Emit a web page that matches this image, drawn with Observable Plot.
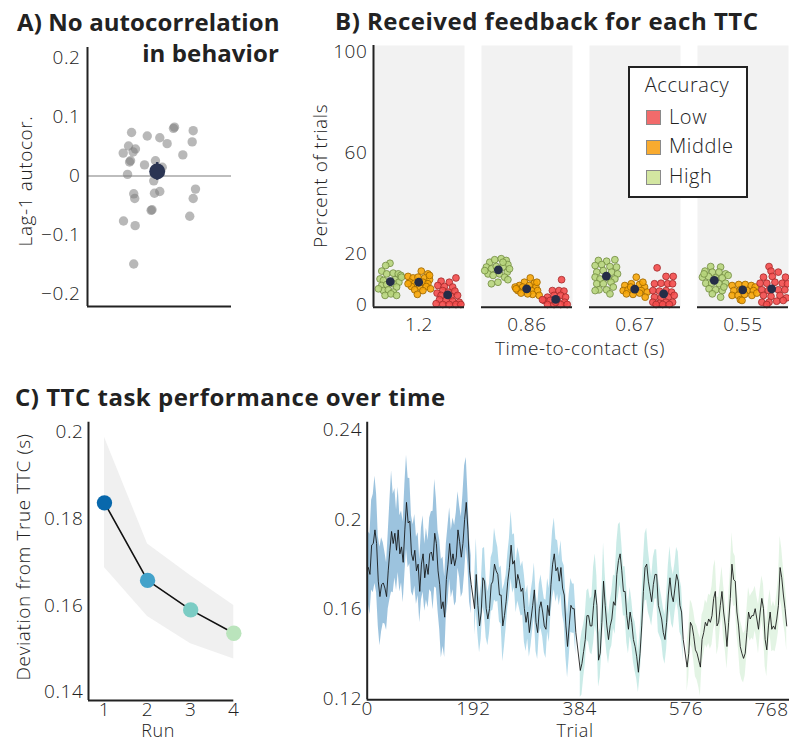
<!DOCTYPE html>
<html><head><meta charset="utf-8">
<script src="https://cdn.jsdelivr.net/npm/d3@7"></script>
<script src="https://cdn.jsdelivr.net/npm/@observablehq/plot@0.6"></script>
<style>
body{margin:0;background:#fff;}
#fig{position:relative;width:789px;height:742px;overflow:hidden;font-family:"Open Sans",sans-serif;color:#222;}
.t{position:absolute;white-space:nowrap;line-height:1;}
.title{font-weight:700;font-size:24px;letter-spacing:0.5px;}
.lab{font-size:19px;font-weight:300;letter-spacing:0.6px;}
.c{transform:translate(-50%,-50%);}
.rot{transform:translate(-50%,-50%) rotate(-90deg);}
</style></head><body><div id="fig"></div>
<script>
// ---------- Panel A: lag-1 autocorrelation per subject ----------
const aTicks = [-0.2, -0.1, 0, 0.1, 0.2];
const aAutocor = [0.074,0.068,0.065,0.055,0.083,0.081,0.077,0.058,0.051,0.046,0.039,0.041,0.026,0.024,0.019,0.026,-0.008,0.003,0.036,-0.022,-0.038,-0.068,-0.030,-0.038,-0.029,-0.026,-0.058,-0.057,-0.076,-0.084,-0.149,0.015];
const aJitter  = [0.306,0.415,0.502,0.553,0.604,0.597,0.734,0.727,0.285,0.333,0.248,0.317,0.299,0.292,0.396,0.472,0.460,0.278,0.662,0.750,0.734,0.710,0.321,0.328,0.465,0.502,0.442,0.448,0.250,0.331,0.321,0.519];
const aMeanVal = 0.008, aMeanSe = 0.015, aMeanJit = 0.484;

// ---------- Panel B: feedback percentages ----------
const ttcLabels = ["1.2","0.86","0.67","0.55"];
const accLevels = ["Low","Middle","High"];
const accFill   = ["#f34b4b","#f7a608","#b7d57c"];
const accStroke = ["#a32b2b","#9a6400","#718a40"];
const legendFill = ["#f26b6b","#f9ab2f","#d3e6a1"];
const bTicks = [0, 20, 60, 100];
const highPct = [
 [16.3,15.4,13.2,12.1,12.4,12.1,11.5,10.1,9.5,9.8,8.8,7.5,7.9,8.2,6.9,5.5,5.8,4.9,6.2,3.6,4.2,3.6,10.8],
 [16.7,17.7,18.1,17.4,15.8,14.8,14.1,15.0,14.8,12.8,12.1,11.5,12.1,10.8,9.8,8.2,8.8,13.4,16.7,14.1],
 [17.4,17.1,17.7,15.4,15.8,15.0,14.8,12.8,13.4,12.8,12.1,10.8,10.1,10.5,10.1,8.2,8.2,8.8,5.8,5.8,4.2,5.5,6.9],
 [15.0,14.8,13.2,12.8,12.8,12.1,10.8,11.1,10.5,10.5,11.5,8.4,8.4,8.2,8.4,6.2,5.8,5.5,4.2,2.9,12.1,6.9]];
const highJit = [
 [0.181,0.134,0.091,0.145,0.217,0.272,0.301,0.072,0.109,0.236,0.279,0.091,0.145,0.217,0.254,0.109,0.163,0.217,0.054,0.127,0.192,0.254,0.308],
 [0.091,0.145,0.217,0.272,0.290,0.054,0.109,0.163,0.236,0.283,0.072,0.127,0.199,0.254,0.290,0.109,0.181,0.036,0.236,0.308],
 [0.098,0.188,0.279,0.062,0.134,0.225,0.297,0.080,0.152,0.243,0.308,0.062,0.116,0.207,0.279,0.080,0.152,0.236,0.105,0.188,0.225,0.062,0.261],
 [0.145,0.254,0.083,0.163,0.236,0.308,0.054,0.120,0.199,0.272,0.337,0.091,0.156,0.236,0.308,0.127,0.199,0.272,0.163,0.254,0.072,0.290]];
const middlePct = [
 [13.2,12.1,11.1,10.5,10.8,10.5,9.8,8.8,8.4,8.8,8.2,7.1,6.9,7.1,6.2,5.8,5.5,4.0,8.2,11.5],
 [10.5,8.8,7.5,6.9,8.4,6.9,7.5,6.9,5.5,5.5,5.5,5.5,3.6,4.0,4.5,4.2,6.2,8.8],
 [10.8,7.5,8.2,7.9,6.9,5.5,5.8,5.5,5.5,4.9,4.2,4.0,4.5,2.9,6.9,8.8],
 [7.5,7.9,7.9,7.5,6.9,5.5,5.8,5.5,5.5,3.6,3.6,4.0,3.6,4.5,1.9,1.6]];
const middleJit = [
 [0.525,0.598,0.380,0.435,0.489,0.562,0.616,0.399,0.453,0.543,0.598,0.417,0.507,0.580,0.627,0.453,0.543,0.482,0.380,0.616],
 [0.536,0.471,0.417,0.370,0.580,0.598,0.525,0.453,0.399,0.478,0.551,0.616,0.634,0.562,0.435,0.507,0.380,0.609],
 [0.514,0.388,0.460,0.551,0.605,0.370,0.424,0.496,0.569,0.634,0.406,0.478,0.551,0.612,0.453,0.587],
 [0.380,0.453,0.525,0.591,0.634,0.399,0.471,0.543,0.616,0.380,0.446,0.518,0.598,0.652,0.471,0.489]];
const lowPct = [
 [10.5,9.2,8.8,7.5,7.1,6.9,5.5,4.9,5.3,4.5,3.6,3.2,3.6,1.9,1.6,1.3,0.9,0.0,0.0,0.0,0.0,0.3],
 [9.8,5.5,5.5,5.3,2.9,3.6,3.6,2.9,1.6,1.6,1.9,0.9,0.0,0.0,0.0,0.0,1.9,0.9],
 [14.5,11.1,11.1,8.2,8.4,8.2,8.2,5.5,5.3,5.5,4.9,2.9,2.6,2.9,3.6,0.9,0.5,0.9,0.9,0.0,0.0,0.0],
 [15.0,13.2,12.8,10.8,11.1,10.8,8.4,8.4,8.8,8.4,8.2,5.8,5.5,5.8,5.8,3.6,3.2,3.6,2.6,0.9,0.9,1.3,1.6,0.0]];
const lowJit = [
 [0.906,0.743,0.833,0.707,0.779,0.870,0.761,0.822,0.895,0.699,0.743,0.851,0.924,0.725,0.797,0.870,0.942,0.761,0.833,0.906,0.960,0.688],
 [0.880,0.779,0.851,0.906,0.725,0.797,0.870,0.924,0.688,0.754,0.833,0.913,0.725,0.797,0.870,0.942,0.670,0.815],
 [0.743,0.841,0.920,0.714,0.786,0.859,0.913,0.696,0.768,0.841,0.902,0.714,0.786,0.866,0.931,0.696,0.768,0.841,0.913,0.732,0.804,0.877],
 [0.786,0.808,0.888,0.725,0.822,0.967,0.688,0.761,0.851,0.931,0.989,0.707,0.779,0.888,0.960,0.725,0.808,0.906,0.978,0.707,0.786,0.870,0.942,0.761]];
const meanLow = [3.8, 2.0, 4.2, 6.2];
const meanMiddle = [8.8, 6.2, 6.1, 5.8];
const meanHigh = [9.0, 13.7, 11.2, 9.5];
const meanJit = [0.815, 0.497, 0.185]; // Low, Middle, High

// ---------- Panel C left: per-run deviation ----------
const runs = [1, 2, 3, 4];
const runColors = ["#0868ac","#43a2ca","#7bccc4","#bae4bc"];
const runMean  = [0.1837, 0.1658, 0.1590, 0.1536];
const runLower = [0.1688, 0.1575, 0.1512, 0.1477];
const runUpper = [0.1988, 0.1742, 0.1669, 0.1600];
const cLeftTicks = [0.14, 0.16, 0.18, 0.2];

// ---------- Panel C right: trial-wise deviation (every 3rd trial) ----------
const trialTicks = [0, 192, 384, 576];
const lastTrialTick = 768;
const cRightTicks = [0.12, 0.16, 0.2, 0.24];
const runFirstTrial = [2, 194, 385, 578];
const trialStep = 3;
const dev1 = [0.1787,0.1756,0.1887,0.1894,0.1955,0.1894,0.1726,0.1657,0.1710,0.1718,0.1695,0.1657,0.1772,0.1864,0.1948,0.1894,0.1940,0.1864,0.1955,0.1848,0.1879,0.1810,0.1955,0.2078,0.1986,0.1994,0.1848,0.1818,0.1864,0.1772,0.1802,0.1680,0.1802,0.1848,0.1741,0.1802,0.1756,0.1848,0.1856,0.1818,0.1940,0.1894,0.1772,0.1710,0.1603,0.1634,0.1565,0.1733,0.1802,0.1894,0.1802,0.1848,0.1795,0.1833,0.1955,0.1902,0.1833,0.1894,0.2001,0.2078,0.1955,0.1772,0.1710];
const se1 = [0.016,0.018,0.020,0.022,0.024,0.022,0.020,0.022,0.021,0.018,0.016,0.015,0.017,0.022,0.027,0.022,0.020,0.018,0.019,0.017,0.016,0.018,0.020,0.021,0.020,0.019,0.017,0.016,0.016,0.015,0.014,0.014,0.016,0.017,0.015,0.016,0.015,0.016,0.018,0.022,0.024,0.020,0.018,0.020,0.022,0.020,0.018,0.016,0.017,0.016,0.015,0.016,0.018,0.020,0.017,0.016,0.018,0.022,0.024,0.020,0.016,0.014,0.013];
const dev2 = [0.1603,0.1756,0.1618,0.1526,0.1588,0.1741,0.1726,0.1603,0.1557,0.1603,0.1710,0.1726,0.1802,0.1772,0.1756,0.1664,0.1664,0.1526,0.1572,0.1634,0.1726,0.1787,0.1887,0.1802,0.1818,0.1695,0.1756,0.1726,0.1680,0.1695,0.1603,0.1542,0.1588,0.1496,0.1557,0.1618,0.1687,0.1542,0.1496,0.1603,0.1634,0.1588,0.1526,0.1511,0.1618,0.1572,0.1710,0.1802,0.1848,0.1772,0.1787,0.1726,0.1787,0.1695,0.1664,0.1526,0.1434,0.1526,0.1618,0.1603,0.1603,0.1496];
const se2 = [0.012,0.016,0.013,0.012,0.012,0.013,0.015,0.013,0.012,0.011,0.012,0.013,0.016,0.014,0.012,0.012,0.013,0.016,0.014,0.012,0.012,0.013,0.015,0.013,0.012,0.011,0.012,0.012,0.011,0.012,0.015,0.013,0.012,0.011,0.012,0.011,0.012,0.013,0.012,0.011,0.012,0.011,0.012,0.013,0.012,0.012,0.013,0.015,0.016,0.014,0.012,0.011,0.012,0.012,0.013,0.014,0.014,0.014,0.012,0.011,0.011,0.010];
const dev3 = [0.1327,0.1358,0.1411,0.1465,0.1572,0.1572,0.1526,0.1526,0.1618,0.1687,0.1618,0.1373,0.1404,0.1542,0.1726,0.1618,0.1526,0.1465,0.1526,0.1557,0.1634,0.1618,0.1756,0.1818,0.1848,0.1772,0.1680,0.1680,0.1572,0.1511,0.1588,0.1542,0.1465,0.1434,0.1388,0.1319,0.1404,0.1526,0.1680,0.1787,0.1802,0.1726,0.1680,0.1634,0.1710,0.1756,0.1756,0.1618,0.1588,0.1557,0.1496,0.1465,0.1542,0.1664,0.1741,0.1664,0.1634,0.1695,0.1756,0.1726,0.1618,0.1588,0.1465];
const se3 = [0.012,0.014,0.012,0.011,0.011,0.012,0.012,0.013,0.017,0.016,0.013,0.012,0.011,0.013,0.017,0.014,0.012,0.011,0.011,0.012,0.012,0.013,0.014,0.016,0.014,0.012,0.011,0.011,0.012,0.011,0.011,0.010,0.010,0.011,0.010,0.009,0.010,0.011,0.013,0.015,0.016,0.014,0.012,0.011,0.012,0.011,0.011,0.012,0.011,0.010,0.011,0.011,0.012,0.013,0.014,0.013,0.012,0.011,0.012,0.013,0.012,0.011,0.010];
const dev4 = [0.1342,0.1404,0.1542,0.1526,0.1480,0.1419,0.1404,0.1373,0.1342,0.1465,0.1496,0.1542,0.1526,0.1557,0.1542,0.1572,0.1649,0.1680,0.1526,0.1542,0.1618,0.1680,0.1588,0.1526,0.1434,0.1542,0.1649,0.1802,0.1733,0.1726,0.1588,0.1526,0.1434,0.1404,0.1381,0.1404,0.1496,0.1588,0.1557,0.1572,0.1572,0.1603,0.1557,0.1511,0.1588,0.1649,0.1603,0.1465,0.1419,0.1526,0.1588,0.1511,0.1526,0.1511,0.1557,0.1618,0.1787,0.1741,0.1664,0.1603,0.1526];
const se4 = [0.011,0.011,0.010,0.010,0.011,0.012,0.012,0.012,0.013,0.011,0.010,0.010,0.010,0.011,0.012,0.013,0.014,0.014,0.013,0.011,0.010,0.011,0.012,0.011,0.010,0.011,0.012,0.014,0.012,0.011,0.010,0.011,0.012,0.012,0.011,0.010,0.010,0.011,0.010,0.010,0.011,0.010,0.010,0.011,0.010,0.010,0.011,0.012,0.012,0.011,0.010,0.010,0.011,0.010,0.011,0.012,0.014,0.013,0.012,0.011,0.011];

// ================= build =================
const fig = document.getElementById("fig");
const fmt = d3.format("~g");
const baseStyle = {fontFamily:'"Open Sans", sans-serif', fontSize:"19px", fontWeight:"300", letterSpacing:"0.6px", color:"#222", background:"transparent", overflow:"visible"};
const ink = "#222";
function place(node, left, top){ node.style.position="absolute"; node.style.left=left+"px"; node.style.top=top+"px"; fig.appendChild(node); }
function text(str, cls, css){ const d=document.createElement("div"); d.className="t "+cls; d.textContent=str; Object.assign(d.style, css); fig.appendChild(d); return d; }

// Panel A
const aData = aAutocor.map((r,i)=>({r, jit:aJitter[i]}));
const aMean = [{r:aMeanVal, jit:aMeanJit}];
const aYmin = -0.221;
place(Plot.plot({
  width:240, height:320, marginLeft:87, marginRight:9, marginTop:47, marginBottom:14,
  style: baseStyle,
  x:{domain:[0,1], axis:null},
  y:{domain:[aYmin,0.218], ticks:aTicks, tickFormat:fmt, tickSize:0, tickPadding:7, label:null},
  marks:[
    Plot.ruleY([0], {stroke:"#bdbdbd", strokeWidth:2}),
    Plot.dot(aData, {x:"jit", y:"r", r:4.7, fill:"#7d7d7d", fillOpacity:0.55}),
    Plot.ruleX(aMean, {x:"jit", y1:d=>d.r-aMeanSe, y2:d=>d.r+aMeanSe, stroke:"#2b3553", strokeWidth:2.5}),
    Plot.dot(aMean, {x:"jit", y:"r", r:8, fill:"#2b3553"}),
    Plot.ruleX([0], {stroke:ink, strokeWidth:2}),
    Plot.ruleY([aYmin], {stroke:ink, strokeWidth:2})
  ]
}), 0, 0);

// Panel B
const pctByAcc = [lowPct, middlePct, highPct];
const jitByAcc = [lowJit, middleJit, highJit];
const meanByAcc = [meanLow, meanMiddle, meanHigh];
const bDots = [], bMeans = [];
ttcLabels.forEach((ttc, ti) => {
  [2,1,0].forEach(ai => {
    pctByAcc[ai][ti].forEach((p, k) => bDots.push({ttc, pct:p, jit:jitByAcc[ai][ti][k], fill:accFill[ai], stroke:accStroke[ai]}));
    bMeans.push({ttc, pct:meanByAcc[ai][ti], jit:meanJit[ai]});
  });
});
const bYmin = -1.07;
place(Plot.plot({
  width:489, height:360, marginLeft:71.7, marginRight:0, marginTop:45, marginBottom:53.3,
  style: baseStyle,
  fx:{domain:ttcLabels, paddingInner:0.154, paddingOuter:0, label:null, tickSize:0, tickPadding:10, axis:"bottom"},
  x:{domain:[0,1], axis:null},
  y:{domain:[bYmin,102.4], ticks:bTicks, tickSize:0, tickPadding:6, label:null},
  color:{type:"identity"},
  marks:[
    Plot.frame({fill:"#f2f2f2", stroke:"none"}),
    Plot.dot(bDots, {fx:"ttc", x:"jit", y:"pct", r:3.4, fill:"fill", stroke:"stroke", strokeWidth:0.8, fillOpacity:0.9}),
    Plot.dot(bMeans, {fx:"ttc", x:"jit", y:"pct", r:4.4, fill:"#252d47"}),
    Plot.ruleY([bYmin], {stroke:ink, strokeWidth:2}),
    Plot.ruleX([ttcLabels[0]], {fx:d=>d, x:0, stroke:ink, strokeWidth:2})
  ]
}), 300, 0);

// Legend for B
const leg = document.createElement("div");
Object.assign(leg.style, {position:"absolute", left:"627.7px", top:"66px", width:"116px", height:"128px", border:"2px solid "+ink, background:"#fff", letterSpacing:"0.6px"});
fig.appendChild(leg);
const lt = document.createElement("div");
lt.textContent = "Accuracy"; Object.assign(lt.style,{position:"absolute", left:"15px", top:"7px", fontSize:"20px", fontWeight:"300", lineHeight:"1", whiteSpace:"nowrap"});
leg.appendChild(lt);
accLevels.forEach((a,i)=>{
  const cy = [49.3, 78.7, 108.7][i];
  const sw = document.createElement("div");
  Object.assign(sw.style,{position:"absolute", left:"16.3px", top:(cy-7)+"px", width:"13px", height:"13px", background:legendFill[i], border:"1px solid #8a8a8a"});
  leg.appendChild(sw);
  const tx = document.createElement("div");
  tx.textContent = a; Object.assign(tx.style,{position:"absolute", left:"39.3px", top:(cy-10.5)+"px", fontSize:"20px", fontWeight:"300", lineHeight:"1", whiteSpace:"nowrap"});
  leg.appendChild(tx);
});

// Panel C left
const cRuns = runs.map((r,i)=>({run:r, m:runMean[i], lo:runLower[i], hi:runUpper[i], col:runColors[i]}));
const cLYmin = 0.1381;
place(Plot.plot({
  width:260, height:335, marginLeft:88, marginRight:26.7, marginTop:16.7, marginBottom:40,
  style: baseStyle,
  x:{domain:[0.63,4.0], ticks:runs, tickFormat:fmt, tickSize:0, tickPadding:2, label:null},
  y:{domain:[cLYmin,0.2023], ticks:cLeftTicks, tickFormat:fmt, tickSize:0, tickPadding:5, label:null},
  color:{type:"identity"},
  marks:[
    Plot.areaY(cRuns, {x:"run", y1:"lo", y2:"hi", fill:"#f0f0f0"}),
    Plot.line(cRuns, {x:"run", y:"m", stroke:"#111", strokeWidth:1.6}),
    Plot.dot(cRuns, {x:"run", y:"m", r:7.7, fill:"col"}),
    Plot.ruleX([0.63], {stroke:ink, strokeWidth:2}),
    Plot.ruleY([cLYmin], {stroke:ink, strokeWidth:2})
  ]
}), 0, 405);

// Panel C right
const devRuns = [dev1, dev2, dev3, dev4], seRuns = [se1, se2, se3, se4];
const trialData = [];
devRuns.forEach((arr, ri) => arr.forEach((m, k) => {
  trialData.push({run:ri+1, trial:runFirstTrial[ri]+k*trialStep, m, lo:m-seRuns[ri][k], hi:m+seRuns[ri][k], col:runColors[ri]});
}));
const cRYmin = 0.1196;
place(Plot.plot({
  width:489, height:335, marginLeft:66.7, marginRight:0, marginTop:16.7, marginBottom:40.7,
  style: baseStyle,
  x:{domain:[0,763], ticks:trialTicks, tickSize:0, tickPadding:2, label:null},
  y:{domain:[cRYmin,0.2436], ticks:cRightTicks, tickFormat:fmt, tickSize:0, tickPadding:5, label:null},
  color:{type:"identity"},
  marks:[
    Plot.areaY(trialData, {x:"trial", y1:"lo", y2:"hi", z:"run", fill:"col", fillOpacity:0.4}),
    Plot.line(trialData, {x:"trial", y:"m", stroke:"#111", strokeWidth:1, strokeOpacity:0.85}),
    Plot.text([lastTrialTick], {x:d=>d, frameAnchor:"bottom", lineAnchor:"middle", text:d=>String(d), textAnchor:"end", dx:-3.5, dy:10, fontSize:19, fill:ink}),
    Plot.ruleX([0], {stroke:ink, strokeWidth:2}),
    Plot.ruleY([cRYmin], {stroke:ink, strokeWidth:2})
  ]
}), 300, 405);

// Titles and axis labels
text("A) No autocorrelation", "title", {left:"17px", top:"9.7px", letterSpacing:"0.1px"});
text("in behavior", "title", {right:(789-279)+"px", top:"41.3px", letterSpacing:"0.1px"});
text("B) Received feedback for each TTC", "title", {left:"335px", top:"8.7px"});
text("C) TTC task performance over time", "title", {left:"15px", top:"384.7px"});
text("Lag-1 autocor.", "lab rot", {left:"25px", top:"181px"});
text("Percent of trials", "lab rot", {left:"320px", top:"176px"});
text("Time-to-contact (s)", "lab c", {left:"580px", top:"348px"});
text("Deviation from True TTC (s)", "lab rot", {left:"23.3px", top:"556.7px"});
text("Run", "lab c", {left:"158px", top:"730px", fontSize:"18px"});
text("Trial", "lab c", {left:"575px", top:"730px", fontSize:"18px"});
</script></body></html>
